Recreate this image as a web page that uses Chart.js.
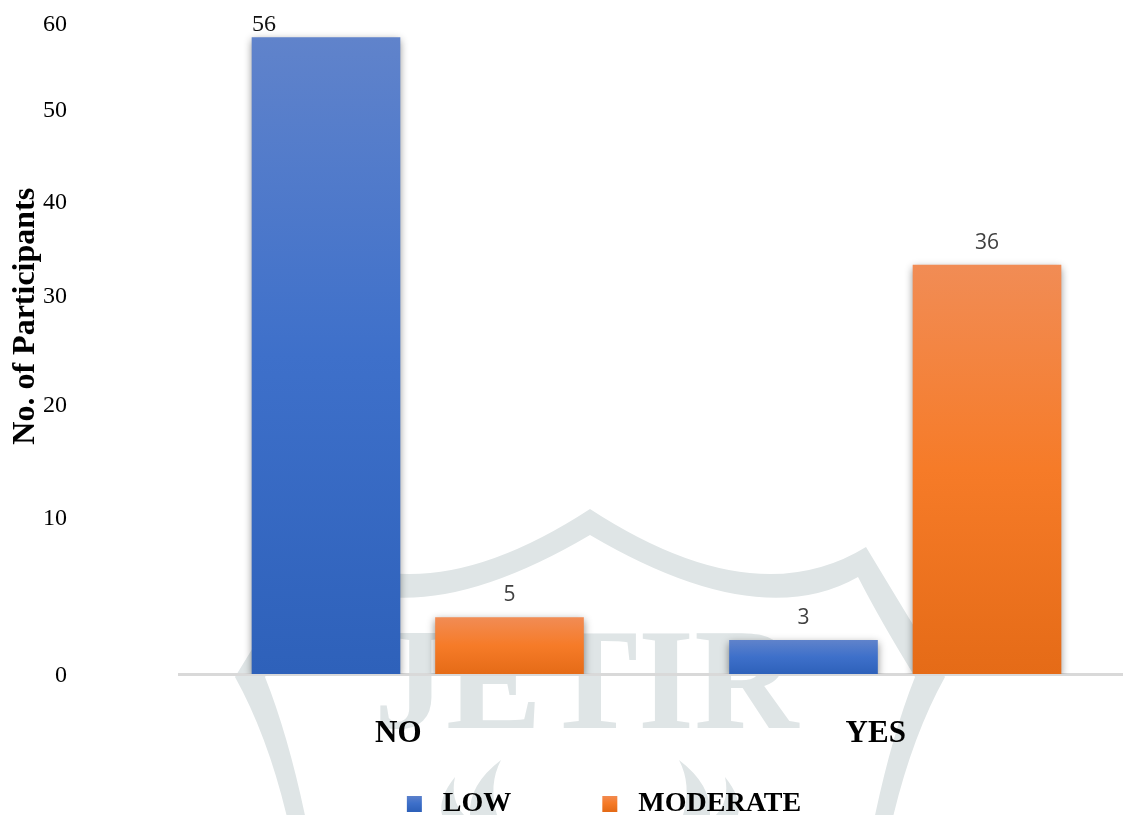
<!DOCTYPE html>
<html lang="en">
<head>
  <meta charset="UTF-8" />
  <title>No. of Participants</title>
  <script src="https://cdn.jsdelivr.net/npm/chart.js"></script>
  <style>
    html, body {
      margin: 0;
      padding: 0;
      background: #fff;
      overflow: hidden;
    }
    canvas {
      display: block;
    }
  </style>
</head>
<body>
  <canvas id="participantsChart" width="1134" height="815"></canvas>

  <script>
    const categories = ["NO", "YES"];
    const seriesNames = ["LOW", "MODERATE"];
    const lowValues = [56, 3];
    const moderateValues = [5, 36];

    // the printed axis labels are not evenly spaced against the bars,
    // so each label has the axis value where it actually sits
    const tickLabels = [0, 10, 20, 30, 40, 50, 60];
    const tickValues = [0, 13.8, 23.7, 33.3, 41.6, 49.7, 57.25];

    const yMax = 58;
    const serif = "'Liberation Serif', 'Times New Roman', serif";

    const blueStops = ["#6083CB", "#3E70CA", "#2E61BA"];
    const orangeStops = ["#F18C55", "#F67B28", "#E56B17"];

    function makeGradient(c, top, bottom, stops) {
      const g = c.createLinearGradient(0, top, 0, bottom);
      g.addColorStop(0, stops[0]);
      g.addColorStop(0.5, stops[1]);
      g.addColorStop(1, stops[2]);
      return g;
    }

    function barGradient(stops) {
      return (context) => {
        const scale = context.chart.scales.y;
        if (!scale) return stops[1];
        const top = scale.getPixelForValue(context.raw);
        const bottom = scale.getPixelForValue(0);
        if (!Number.isFinite(top) || !Number.isFinite(bottom)) return stops[1];
        return makeGradient(context.chart.ctx, top, bottom, stops);
      };
    }

    // faint JETIR stamp behind the chart
    function shieldHalf(c) {
      c.beginPath();
      c.moveTo(590, 509);
      c.quadraticCurveTo(426, 616, 314, 547);
      c.quadraticCurveTo(270, 620, 235, 677);
      c.quadraticCurveTo(270, 740, 290, 830);
      c.lineTo(308, 830);
      c.quadraticCurveTo(290, 740, 265, 677);
      c.quadraticCurveTo(300, 620, 322, 577);
      c.quadraticCurveTo(422, 634, 590, 535);
      c.closePath();
      c.fill();
      c.beginPath();
      c.moveTo(501, 760);
      c.quadraticCurveTo(468, 785, 470, 815);
      c.lineTo(497, 815);
      c.quadraticCurveTo(488, 785, 501, 760);
      c.closePath();
      c.fill();
      c.beginPath();
      c.moveTo(455, 777);
      c.quadraticCurveTo(438, 798, 442, 815);
      c.lineTo(464, 815);
      c.quadraticCurveTo(450, 800, 455, 777);
      c.closePath();
      c.fill();
    }

    const watermark = {
      id: "watermark",
      beforeDraw(chart) {
        const c = chart.ctx;
        c.save();
        c.fillStyle = "#DFE5E6";
        shieldHalf(c);
        c.translate(1180, 0);
        c.scale(-1, 1);
        shieldHalf(c);
        c.restore();
        c.save();
        c.fillStyle = "#DFE5E6";
        c.font = "bold 144px " + serif;
        c.textBaseline = "alphabetic";
        c.fillText("JETIR", 374, 728);
        c.restore();
      }
    };

    const barShadow = {
      id: "barShadow",
      beforeDatasetDraw(chart) {
        const c = chart.ctx;
        c.save();
        c.shadowColor = "rgba(0,0,0,0.45)";
        c.shadowBlur = 8;
        c.shadowOffsetY = 3;
      },
      afterDatasetDraw(chart) {
        chart.ctx.restore();
      }
    };

    const valueLabels = {
      id: "valueLabels",
      afterDatasetsDraw(chart) {
        const c = chart.ctx;
        c.save();
        c.textAlign = "center";
        c.textBaseline = "middle";
        chart.data.datasets.forEach((ds, d) => {
          chart.getDatasetMeta(d).data.forEach((bar, i) => {
            // the 56 is set in serif and pushed left over the bar in the original
            if (d === 0 && i === 0) {
              c.font = "24px " + serif;
              c.fillStyle = "#111";
              c.fillText(ds.data[i], bar.x - 62, bar.y - 13);
            } else {
              c.font = "21px 'Open Sans'";
              c.fillStyle = "#404040";
              c.fillText(ds.data[i], bar.x, bar.y - 22);
            }
          });
        });
        c.restore();
      }
    };

    const legendNudge = {
      id: "legendNudge",
      afterLayout(chart) {
        const l = chart.legend;
        l.left += 37;
        l.right += 37;
        l.top += 13;
        l.bottom += 13;
      }
    };

    new Chart(document.getElementById("participantsChart").getContext("2d"), {
      type: "bar",
      data: {
        labels: categories,
        datasets: [
          { label: seriesNames[0], data: lowValues, backgroundColor: barGradient(blueStops) },
          { label: seriesNames[1], data: moderateValues, backgroundColor: barGradient(orangeStops) }
        ]
      },
      options: {
        responsive: false,
        animation: false,
        layout: { padding: { top: 14.5 } },
        datasets: { bar: { barPercentage: 0.81, categoryPercentage: 0.7686 } },
        plugins: {
          tooltip: { enabled: false },
          legend: {
            position: "bottom",
            labels: {
              boxWidth: 15,
              boxHeight: 16,
              padding: 7,
              color: "#000",
              font: { family: serif, size: 28, weight: "bold" },
              generateLabels(chart) {
                const stops = [blueStops, orangeStops];
                return Chart.defaults.plugins.legend.labels.generateLabels(chart).map((item, i) => {
                  // spaces keep the gaps the original has around each name
                  item.text = " " + item.text + (i === 0 ? " ".repeat(12) : "");
                  item.fillStyle = makeGradient(chart.ctx, 795, 811, stops[i]);
                  item.lineWidth = 0;
                  return item;
                });
              }
            }
          }
        },
        scales: {
          x: {
            grid: { display: false },
            border: { color: "#D9D9D9", width: 3 },
            afterFit(scale) { scale.height = 96; },
            ticks: {
              color: "#000",
              padding: 33,
              labelOffset: -19.5,
              maxRotation: 0,
              font: { family: serif, size: 31, weight: "bold" }
            }
          },
          y: {
            min: 0,
            max: yMax,
            grid: { display: false },
            border: { display: false },
            afterBuildTicks(scale) { scale.ticks = tickValues.map((v) => ({ value: v })); },
            afterFit(scale) {
              scale.width = 179;
              // the wide tick padding would otherwise be added above and below the axis
              scale.paddingTop = 0;
              scale.paddingBottom = 0;
            },
            ticks: {
              autoSkip: false,
              color: "#000",
              padding: 104,
              labelOffset: 1.5,
              font: { family: serif, size: 24 },
              callback: (value, i) => tickLabels[i]
            },
            title: {
              display: true,
              text: " ".repeat(7) + "No. of Participants",
              color: "#000",
              padding: { top: 7, bottom: 0 },
              font: { family: serif, size: 32, weight: "bold" }
            }
          }
        }
      },
      plugins: [watermark, barShadow, valueLabels, legendNudge]
    });
  </script>
</body>
</html>
